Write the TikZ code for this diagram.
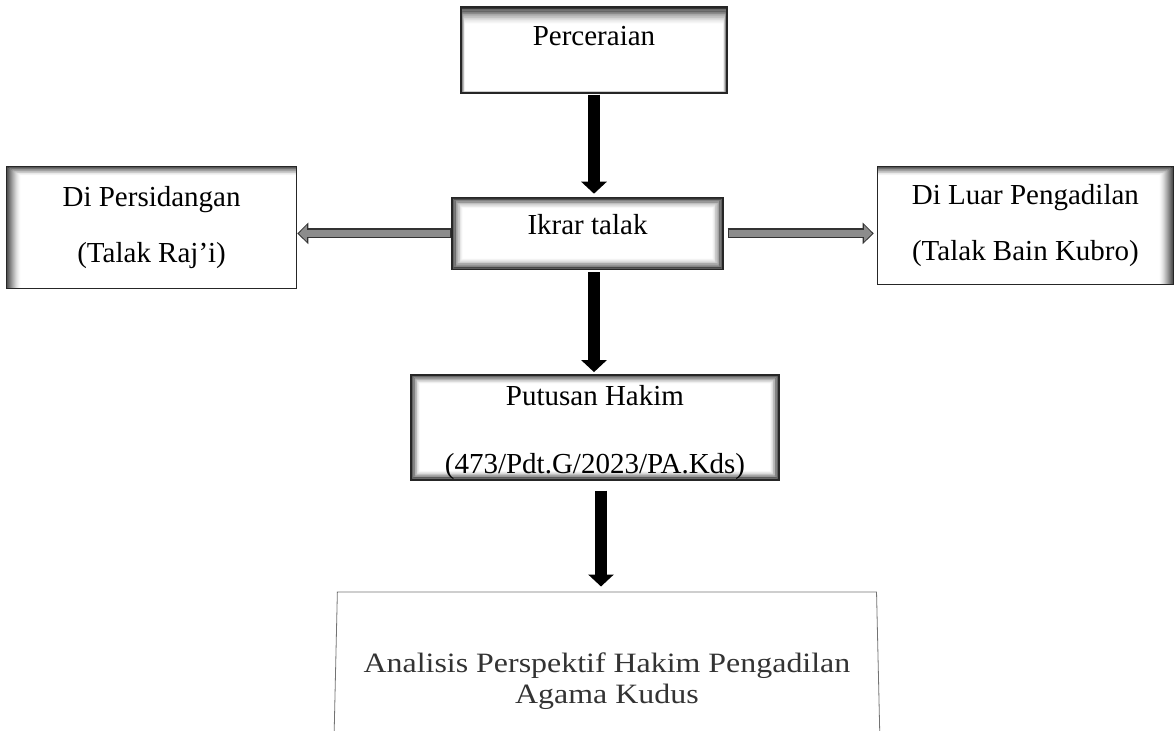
\documentclass[tikz,border=0pt]{standalone}
\usepackage{fontspec}
\setmainfont{Liberation Serif}
\usetikzlibrary{arrows.meta}
\usetikzlibrary{positioning}
\usetikzlibrary{shapes.geometric}
\tikzstyle{box}=[rectangle, draw=black!85, line width=1.4pt, fill=white, inner sep=0pt, align=center, font=\fontsize{29}{56}\selectfont]
\tikzstyle{down}=[line width=12pt, -{Triangle[length=12pt,width=25pt]}]
\tikzstyle{sideout}=[line width=10pt, black!80, -{Triangle[length=11pt,width=21pt]}]
\tikzstyle{sidein}=[line width=7pt, black!45, -{Triangle[length=8pt,width=16pt]}]
% inner shading of the boxes: top, right, bottom, left
\tikzset{glow/.style n args={4}{path picture={
  \foreach \i in {1,...,14}{
    \pgfmathsetmacro{\ga}{(\i-1)/14}
    \pgfmathsetmacro{\gb}{\i/14}
    \pgfmathsetmacro{\gop}{0.85*(1-\ga)^1.6}
    \fill[black, opacity=\gop, even odd rule]
      ([shift={({#4*\ga},{#1*\ga})}]path picture bounding box.north west) rectangle ([shift={({-#2*\ga},{-#3*\ga})}]path picture bounding box.south east)
      ([shift={({#4*\gb},{#1*\gb})}]path picture bounding box.north west) rectangle ([shift={({-#2*\gb},{-#3*\gb})}]path picture bounding box.south east);
  }}}}
\newcommand{\wide}[1]{\scalebox{1.14}[1]{#1}}

\begin{document}
\begin{tikzpicture}[x=1pt, y=-1pt]
    \useasboundingbox (0,0) rectangle (1176,731);
    % nodes
    \node[box, glow={17}{4}{2}{4}, minimum width=266pt, minimum height=86pt, text height=20pt, text depth=30pt] (perc) at (594,50) {Perceraian};
    \node[box, glow={11}{11}{11}{11}, minimum width=271pt, minimum height=72pt, text height=20pt, text depth=18pt, below=103pt of perc, xshift=-6.5pt] (ikrar) {Ikrar talak};
    \node[box, glow={9}{0}{0}{14}, minimum width=290pt, minimum height=122pt, left=154pt of ikrar, yshift=6pt] (pers) {Di Persidangan\\(Talak Raj’i)};
    \node[box, glow={9}{14}{0}{0}, minimum width=296pt, minimum height=118pt, right=153pt of ikrar, yshift=8pt] (luar) {Di Luar Pengadilan\\(Talak Bain Kubro)};
    \node[box, glow={9}{9}{9}{9}, minimum width=368pt, minimum height=105pt, below=104pt of ikrar, xshift=7.5pt] (putusan) {\rule{0pt}{30pt}Putusan Hakim\\[12pt](473/Pdt.G/2023/PA.Kds)};
    \node[trapezium, draw=black!55, line width=0.8pt, trapezium left angle=86.3, trapezium right angle=86.3, trapezium stretches=true, minimum width=550pt, minimum height=178pt, inner sep=0pt, align=center, text=black!80, font=\fontsize{28}{31}\selectfont, below=111pt of putusan, xshift=12pt] (analisis) {\wide{Analisis Perspektif Hakim Pengadilan}\\\wide{Agama Kudus}};

    % arrows
    \draw[down, shorten <=1pt, shorten >=3pt] (perc.south) -- (perc.south |- ikrar.north);
    \draw[down, shorten <=2pt, shorten >=2pt] (ikrar.south -| perc.south) -- (putusan.north -| perc.south);
    \draw[down, shorten <=10pt, shorten >=5pt] ([xshift=6pt]putusan.south) -- ([xshift=6pt]putusan.south |- analisis.north);
    \draw[sideout] (ikrar.west) -- (pers.east |- ikrar.west);
    \draw[sidein, shorten <=1pt, shorten >=1.6pt] (ikrar.west) -- (pers.east |- ikrar.west);
    \draw[sideout, shorten <=4pt, shorten >=3pt] (ikrar.east) -- (luar.west |- ikrar.east);
    \draw[sidein, shorten <=5pt, shorten >=4.6pt] (ikrar.east) -- (luar.west |- ikrar.east);
\end{tikzpicture}
\end{document}
